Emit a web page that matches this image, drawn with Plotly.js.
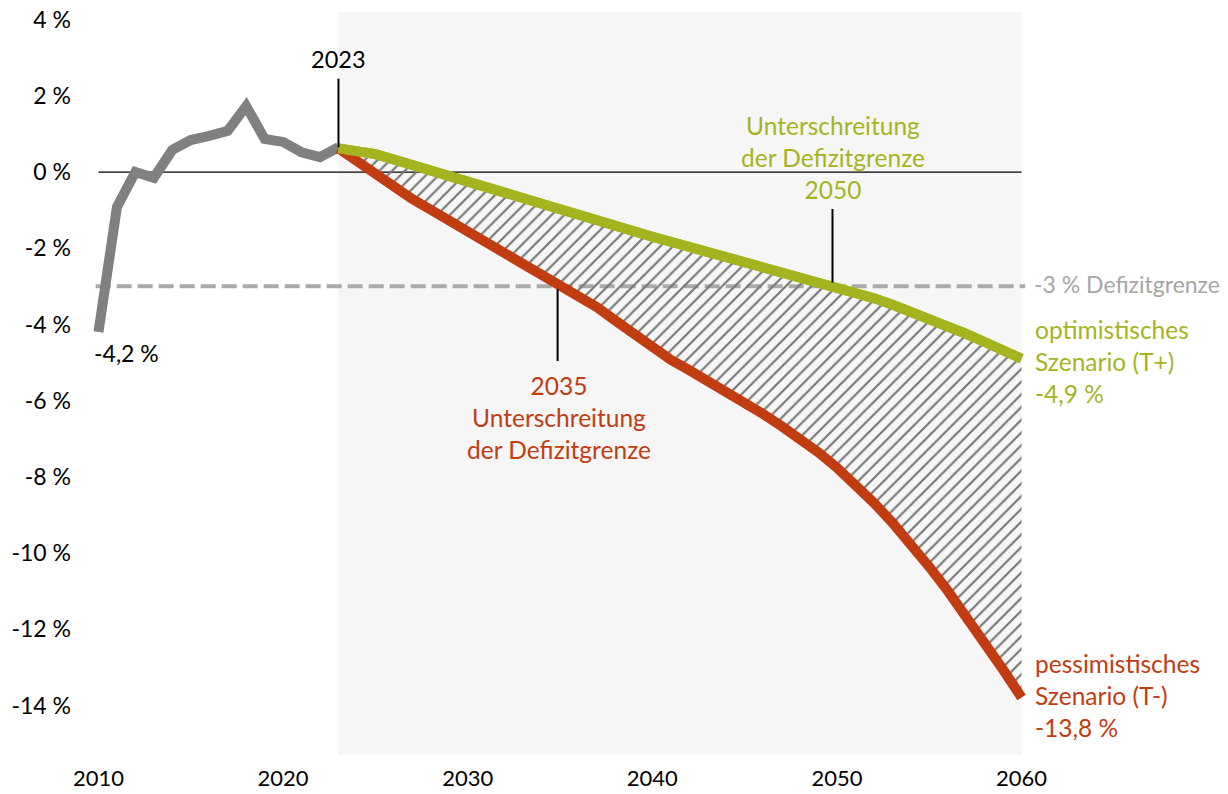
<!DOCTYPE html>
<html>
<head>
<meta charset="utf-8">
<script src="https://cdn.plot.ly/plotly-3.0.1.min.js"></script>
<style>
  html, body { margin: 0; padding: 0; background: #ffffff; }
  #chart { width: 1228px; height: 794px; }
</style>
</head>
<body>
<div id="chart"></div>
<script>
// ---- data ----
const histYears = [2010, 2011, 2012, 2013, 2014, 2015, 2016, 2017, 2018, 2019, 2020, 2021, 2022, 2023];
const histValues = [-4.2, -0.92, 0.0, -0.15, 0.58, 0.84, 0.95, 1.08, 1.73, 0.87, 0.79, 0.52, 0.39, 0.65];

const projYears = [2023, 2024, 2025, 2026, 2027, 2028, 2029, 2030, 2031, 2032, 2033, 2034, 2035, 2036, 2037,
  2038, 2039, 2040, 2041, 2042, 2043, 2044, 2045, 2046, 2047, 2048, 2049, 2050, 2051, 2052, 2053, 2054,
  2055, 2056, 2057, 2058, 2059, 2060];
const optimisticValues = [0.62, 0.56, 0.47, 0.33, 0.18, 0.03, -0.11, -0.26, -0.4, -0.54, -0.69, -0.83, -0.97, -1.12, -1.26,
  -1.41, -1.55, -1.7, -1.83, -1.96, -2.09, -2.22, -2.35, -2.47, -2.6, -2.73, -2.86, -3.0, -3.15, -3.31, -3.48, -3.66,
  -3.85, -4.05, -4.25, -4.46, -4.68, -4.9];
const pessimisticValues = [0.62, 0.27, -0.09, -0.43, -0.71, -0.99, -1.27, -1.55, -1.83, -2.12, -2.4, -2.68, -2.97, -3.25, -3.55,
  -3.9, -4.25, -4.62, -4.93, -5.2, -5.47, -5.75, -6.04, -6.35, -6.67, -7.0, -7.36, -7.76, -8.2, -8.68, -9.2, -9.76,
  -10.36, -10.99, -11.65, -12.34, -13.06, -13.79];

const yTickVals = [4, 2, 0, -2, -4, -6, -8, -10, -12, -14];
const yTickText = ['4 %', '2 %', '0 %', '-2 %', '-4 %', '-6 %', '-8 %', '-10 %', '-12 %', '-14 %'];
const xTickVals = [2010, 2020, 2030, 2040, 2050, 2060];
const xTickText = ['2010', '2020', '2030', '2040', '2050', '2060'];

const deficitLimit = -3;
const projStart = 2023;
const projEnd = 2060;
const crossPess = 2035;
const crossOpt = 2050;

// ---- styles ----
const GREEN = '#a5b41e';
const RED = '#c23c11';
const GRAY = '#808080';
const FONT = 'Lato, "Open Sans", sans-serif';

const traces = [
  {
    x: histYears, y: histValues, type: 'scatter', mode: 'lines',
    line: { color: GRAY, width: 10 }, hoverinfo: 'skip'
  },
  {
    x: projYears, y: optimisticValues, type: 'scatter', mode: 'lines',
    line: { color: GREEN, width: 10 }, hoverinfo: 'skip'
  },
  {
    x: projYears, y: pessimisticValues, type: 'scatter', mode: 'lines',
    fill: 'tonexty', fillcolor: 'rgba(0,0,0,0)',
    fillpattern: { shape: '/', fgcolor: '#777777', bgcolor: 'rgba(0,0,0,0)', size: 9, solidity: 0.24 },
    line: { color: RED, width: 10 }, hoverinfo: 'skip'
  },
  {
    x: projYears, y: optimisticValues, type: 'scatter', mode: 'lines',
    line: { color: GREEN, width: 10 }, hoverinfo: 'skip'
  }
];

const shapes = [
  { type: 'rect', layer: 'below', xref: 'x', yref: 'paper', x0: projStart, x1: projEnd, y0: 0, y1: 1,
    fillcolor: '#f6f6f6', line: { width: 0 } },
  { type: 'line', layer: 'below', xref: 'x', yref: 'y', x0: 2010, x1: projEnd, y0: 0, y1: 0,
    line: { color: '#000000', width: 1.2 } },
  { type: 'line', layer: 'below', xref: 'x', yref: 'y', x0: 2009.85, x1: 2060.2, y0: deficitLimit, y1: deficitLimit,
    line: { color: '#aaaaaa', width: 4, dash: '15px,6px' } },
  { type: 'line', xref: 'x', yref: 'y', x0: projStart, x1: projStart, y0: 0.65, y1: 2.45,
    line: { color: '#000000', width: 2 } },
  { type: 'line', xref: 'x', yref: 'y', x0: 2034.87, x1: 2034.87, y0: -3.07, y1: -4.96,
    line: { color: '#000000', width: 2 } },
  { type: 'line', xref: 'x', yref: 'y', x0: 2049.76, x1: 2049.76, y0: -0.97, y1: -2.9,
    line: { color: '#000000', width: 2 } }
];

const annFont = (c, s) => ({ family: FONT, size: s || 24.5, color: c });
const annotations = [
  { x: projStart, y: 2.97, xref: 'x', yref: 'y', text: String(projStart), showarrow: false,
    xanchor: 'center', yanchor: 'middle', font: annFont('#000000', 23.5) },
  { x: 2034.95, y: -6.43, xref: 'x', yref: 'y', text: crossPess + '<br>Unterschreitung<br>der Defizitgrenze',
    showarrow: false, xanchor: 'center', yanchor: 'middle', align: 'center', font: annFont(RED) },
  { x: 2049.8, y: 0.37, xref: 'x', yref: 'y', text: 'Unterschreitung<br>der Defizitgrenze<br>' + crossOpt,
    showarrow: false, xanchor: 'center', yanchor: 'middle', align: 'center', font: annFont(GREEN) },
  { x: 2060.55, y: -2.94, xref: 'x', yref: 'y', text: '-3 % Defizitgrenze', showarrow: false,
    xanchor: 'left', yanchor: 'middle', align: 'left', font: annFont('#a6a6a6', 23) },
  { x: 2060.6, y: -4.96, xref: 'x', yref: 'y', text: 'optimistisches<br>Szenario (T+)<br>-4,9 %', showarrow: false,
    xanchor: 'left', yanchor: 'middle', align: 'left', font: annFont(GREEN) },
  { x: 2060.6, y: -13.75, xref: 'x', yref: 'y', text: 'pessimistisches<br>Szenario (T-)<br>-13,8 %', showarrow: false,
    xanchor: 'left', yanchor: 'middle', align: 'left', font: annFont(RED) },
  { x: 2011.5, y: -4.75, xref: 'x', yref: 'y', text: '-4,2 %', showarrow: false,
    xanchor: 'center', yanchor: 'middle', font: annFont('#000000', 23) }
];

const layout = {
  width: 1228, height: 794,
  margin: { l: 80, r: 188, t: 12, b: 39, pad: 0 },
  paper_bgcolor: '#ffffff', plot_bgcolor: 'rgba(0,0,0,0)',
  showlegend: false,
  font: { family: FONT, size: 22, color: '#000000' },
  xaxis: {
    range: [2009, 2061], tickvals: xTickVals, ticktext: xTickText,
    showgrid: false, zeroline: false, showline: false, ticks: '',
    ticklabelstandoff: 8, tickfont: { family: FONT, size: 22, color: '#000000' }
  },
  yaxis: {
    range: [-15.3, 4.2], tickvals: yTickVals, ticktext: yTickText,
    showgrid: false, zeroline: false, showline: false, ticks: '',
    ticklabelstandoff: 8, tickfont: { family: FONT, size: 23, color: '#000000' }
  },
  shapes: shapes,
  annotations: annotations
};

Plotly.newPlot('chart', traces, layout, { displayModeBar: false, staticPlot: true });
</script>
</body>
</html>
